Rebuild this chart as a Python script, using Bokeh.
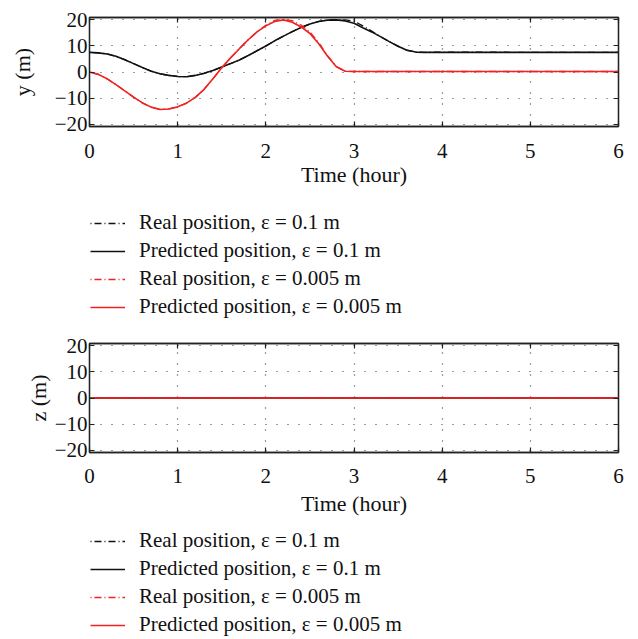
from bokeh.plotting import figure
from bokeh.models import Legend, LegendItem, LinearAxis, FixedTicker, Range1d
from bokeh.layouts import column
from bokeh.embed import file_html
from bokeh.resources import INLINE

FONT = "Liberation Serif"

# ---------------- data ----------------
t_y = [0.0, 0.1, 0.2, 0.3, 0.4, 0.5, 0.6, 0.7, 0.8, 0.9, 1.0, 1.1, 1.2, 1.3, 1.4,
       1.5, 1.6, 1.7, 1.8, 1.9, 2.0, 2.1, 2.2, 2.3, 2.4, 2.5, 2.6, 2.7, 2.8, 2.9,
       3.0, 3.1, 3.2, 3.3, 3.4, 3.5, 3.6, 3.7, 3.8, 4.0, 5.0, 6.0]

y_pred_01 = [7.5, 7.3, 6.9, 6.0, 4.7, 3.2, 1.7, 0.3, -0.7, -1.3, -1.7, -1.8, -1.3, -0.5, 0.6,
             1.9, 3.2, 4.6, 6.3, 8.1, 9.9, 11.9, 13.7, 15.4, 17.0, 18.3, 19.3, 19.8, 19.9, 19.5,
             18.6, 16.9, 15.3, 13.5, 11.6, 9.8, 8.3, 7.6, 7.5, 7.5, 7.5, 7.5]

y_real_01 = [7.5, 7.3, 6.9, 6.0, 4.7, 3.2, 1.7, 0.3, -0.7, -1.3, -1.7, -1.8, -1.3, -0.5, 0.6,
             1.9, 3.2, 4.6, 6.3, 8.1, 9.9, 11.9, 13.7, 15.4, 17.0, 18.3, 19.3, 19.8, 20.0, 19.9,
             19.4, 17.6, 15.6, 13.5, 11.6, 9.8, 8.3, 7.6, 7.5, 7.6, 7.5, 7.5]

y_pred_0005 = [0.0, -0.9, -2.6, -4.8, -7.2, -9.6, -11.8, -13.4, -14.3, -14.1, -13.3, -11.9, -9.7, -6.6, -2.6,
               1.6, 5.4, 8.9, 12.3, 15.3, 17.6, 19.3, 19.9, 19.0, 17.2, 14.7, 10.8, 6.0, 2.0, 0.3,
               0.2, 0.2, 0.2, 0.2, 0.2, 0.2, 0.2, 0.2, 0.2, 0.2, 0.2, 0.2]

y_real_0005 = [0.0, -0.9, -2.6, -4.8, -7.2, -9.6, -11.8, -13.4, -14.3, -14.1, -13.3, -11.9, -9.7, -6.6, -2.6,
               1.6, 5.4, 8.9, 12.3, 15.3, 17.8, 19.7, 20.1, 19.6, 17.9, 15.3, 11.2, 6.2, 2.1, 0.3,
               0.2, 0.2, 0.2, 0.2, 0.2, 0.2, 0.2, 0.2, 0.2, 0.2, 0.2, 0.2]

t_z = [0.0, 6.0]
z_real_01 = [0.0, 0.0]
z_pred_01 = [0.0, 0.0]
z_real_0005 = [0.0, 0.0]
z_pred_0005 = [0.0, 0.0]

x_ticks = [0, 1, 2, 3, 4, 5, 6]
y_ticks = [-20, -10, 0, 10, 20]
y_tick_labels = ["\u221220", "\u221210", "0", "10", "20"]

legend_labels = ["Real position, \u03b5 = 0.1 m",
                 "Predicted position, \u03b5 = 0.1 m",
                 "Real position, \u03b5 = 0.005 m",
                 "Predicted position, \u03b5 = 0.005 m"]

x_label = "Time (hour)"
y_label_top = "y (m)"
y_label_bottom = "z (m)"

BLACK = "#111111"
RED = "#ee2222"
DASHDOT = "1 3 7 3"
W = 638
LEFT = 89
RIGHT = 20


def draw_series(p, t, s1, s2, s3, s4, visible=True):
    r1 = p.line(t, s1, line_color=BLACK, line_width=1.3, line_dash=DASHDOT, visible=visible)
    r2 = p.line(t, s2, line_color=BLACK, line_width=1.6, visible=visible)
    r3 = p.line(t, s3, line_color=RED, line_width=1.3, line_dash=DASHDOT, visible=visible)
    r4 = p.line(t, s4, line_color=RED, line_width=1.6, visible=visible)
    return [r1, r2, r3, r4]


def make_panel(t, series, ylab, top, ylab_standoff, xtick_standoff, xlab_standoff):
    bottom = 72
    p = figure(width=W, height=top + 109 + bottom,
               x_range=Range1d(0, 6), y_range=Range1d(-20.8, 20.8),
               output_backend="svg", toolbar_location=None,
               min_border_left=LEFT, min_border_right=RIGHT, min_border_top=top,
               min_border_bottom=bottom, background_fill_color="white",
               border_fill_color="white")
    p.outline_line_color = "#222222"
    p.outline_line_width = 1.3

    xaxis = p.below[0]
    yaxis = p.left[0]

    draw_series(p, t, *series)

    xaxis.ticker = FixedTicker(ticks=x_ticks)
    yaxis.ticker = FixedTicker(ticks=y_ticks)
    yaxis.major_label_overrides = {v: lab for v, lab in zip(y_ticks, y_tick_labels)}

    top_axis = LinearAxis(ticker=FixedTicker(ticks=x_ticks))
    right_axis = LinearAxis(ticker=FixedTicker(ticks=y_ticks))
    p.add_layout(top_axis, "above")
    p.add_layout(right_axis, "right")

    for ax in (xaxis, yaxis, top_axis, right_axis):
        ax.axis_line_color = "#222222"
        ax.axis_line_width = 1.3
        ax.major_tick_in = 5
        ax.major_tick_out = 0
        ax.major_tick_line_color = "#222222"
        ax.major_tick_line_width = 1.2
        ax.minor_tick_line_color = None
        ax.major_label_text_font = FONT
        ax.major_label_text_font_size = "21px"
        ax.major_label_text_color = "#111111"
        ax.axis_label_text_font = FONT
        ax.axis_label_text_font_size = "22px"
        ax.axis_label_text_font_style = "normal"
        ax.axis_label_text_color = "#111111"
    for ax in (top_axis, right_axis):
        ax.major_label_text_color = None
        ax.major_label_text_font_size = "1px"
        ax.major_label_standoff = 0

    xaxis.major_label_standoff = xtick_standoff
    xaxis.axis_label = x_label
    xaxis.axis_label_standoff = xlab_standoff
    yaxis.major_label_standoff = 2
    yaxis.axis_label = ylab
    yaxis.axis_label_standoff = ylab_standoff

    p.xgrid.ticker = FixedTicker(ticks=x_ticks)
    p.ygrid.ticker = FixedTicker(ticks=y_ticks)
    for g in (p.xgrid[0], p.ygrid[0]):
        g.grid_line_color = "#222222"
        g.grid_line_width = 1.2
        g.grid_line_dash = "1 10"
        g.grid_line_alpha = 0.9
    return p


def make_legend(t, series, height, vy):
    p = figure(width=W, height=height, x_range=Range1d(0, 6), y_range=Range1d(-20.8, 20.8),
               output_backend="svg", toolbar_location=None,
               x_axis_location=None, y_axis_location=None,
               min_border_left=LEFT, min_border_right=RIGHT,
               min_border_top=0, min_border_bottom=0,
               background_fill_color="white", border_fill_color="white")
    p.outline_line_color = None
    p.grid.visible = False
    rs = draw_series(p, t, *series, visible=False)
    legend = Legend(items=[LegendItem(label=lab, renderers=[r]) for lab, r in zip(legend_labels, rs)],
                    location=(1, vy), orientation="vertical",
                    label_text_font=FONT, label_text_font_size="21px",
                    label_text_color="#111111",
                    glyph_width=35, glyph_height=24, label_height=24,
                    label_standoff=14, spacing=3, padding=0, margin=0,
                    border_line_alpha=0, background_fill_alpha=0,
                    inactive_fill_alpha=0)
    p.add_layout(legend, "center")
    return p


series_y = (y_real_01, y_pred_01, y_real_0005, y_pred_0005)
series_z = (z_real_01, z_pred_01, z_real_0005, z_pred_0005)

p1 = make_panel(t_y, series_y, y_label_top, 17, 17, 17, 1)      # page 0 .. 198
l1 = make_legend(t_y, series_y, 136, 15)                         # page 198 .. 334
p2 = make_panel(t_z, series_z, y_label_bottom, 9, 1, 16, 5)      # page 334 .. 524
l2 = make_legend(t_z, series_z, 114, 1)                          # page 524 .. 638

layout = column(p1, l1, p2, l2, spacing=0)
open("out.html", "w").write(file_html(layout, INLINE))
